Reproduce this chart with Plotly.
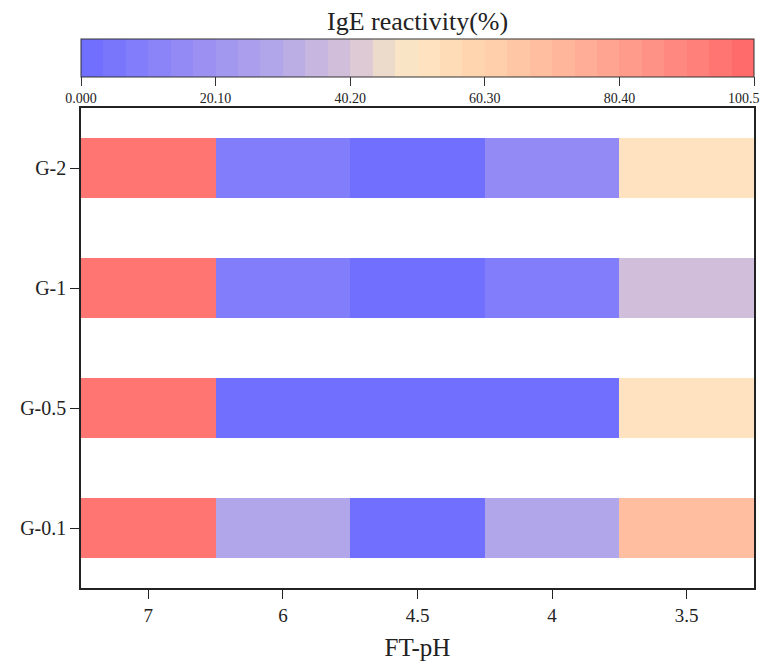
import plotly.graph_objects as go

ph_labels = ["7", "6", "4.5", "4", "3.5"]
groups = ["G-0.1", "G-0.5", "G-1", "G-2"]
reactivity = [
    [96, 27, 3, 27, 68],   # G-0.1
    [96, 3, 3, 3, 52],     # G-0.5
    [96, 7, 3, 7, 38],     # G-1
    [96, 7, 3, 15, 52],    # G-2
]
cbar_ticks = [0, 20.1, 40.2, 60.3, 80.4, 100.5]
cbar_text = ["0.000", "20.10", "40.20", "60.30", "80.40", "100.5"]

anchors = [
    (0.00, (108, 108, 255)),
    (0.15, (148, 138, 246)),
    (0.30, (182, 170, 232)),
    (0.40, (214, 194, 216)),
    (0.46, (240, 224, 200)),
    (0.50, (255, 230, 196)),
    (0.60, (255, 210, 172)),
    (0.70, (255, 186, 158)),
    (0.80, (255, 160, 142)),
    (0.90, (255, 132, 126)),
    (1.00, (255, 102, 102)),
]


def interp(t):
    for (t0, c0), (t1, c1) in zip(anchors[:-1], anchors[1:]):
        if t0 <= t <= t1:
            f = (t - t0) / (t1 - t0) if t1 > t0 else 0
            return tuple(round(a + (b - a) * f) for a, b in zip(c0, c1))
    return anchors[-1][1]


n_steps = 30
colorscale = []
for i in range(n_steps):
    c = interp((i + 0.5) / n_steps)
    col = "rgb(%d,%d,%d)" % c
    colorscale.append([i / n_steps, col])
    colorscale.append([(i + 1) / n_steps, col])

font_family = "Liberation Serif, Times New Roman, serif"

# last colorbar label is drawn as an annotation so it stays inside the page
shown_text = cbar_text[:-1] + [""]

fig = go.Figure(
    go.Heatmap(
        x=ph_labels,
        y=groups,
        z=reactivity,
        zmin=0,
        zmax=100.5,
        colorscale=colorscale,
        ygap=60,
        xgap=0,
        colorbar=dict(
            orientation="h",
            x=0,
            xanchor="left",
            y=(588 - 39) / 480,
            yanchor="top",
            len=1,
            lenmode="fraction",
            thickness=38,
            thicknessmode="pixels",
            xpad=0,
            ypad=0,
            outlinewidth=1,
            outlinecolor="#333",
            tickvals=cbar_ticks,
            ticktext=shown_text,
            ticks="outside",
            ticklen=9,
            tickcolor="#333",
            tickfont=dict(family=font_family, size=14, color="#222"),
        ),
        hoverongaps=False,
    )
)

fig.add_annotation(
    text=cbar_text[-1],
    xref="paper", yref="paper",
    x=1, y=(588 - 98) / 480,
    xanchor="right", yanchor="middle", xshift=7,
    showarrow=False, borderpad=0,
    font=dict(family=font_family, size=14, color="#222"),
)

fig.add_annotation(
    text="IgE reactivity(%)",
    xref="paper", yref="paper",
    x=0.5, y=(588 - 22) / 480,
    xanchor="center", yanchor="middle",
    showarrow=False,
    font=dict(family=font_family, size=26, color="#222"),
)

fig.update_layout(
    width=761,
    height=662,
    margin=dict(l=73, r=15, t=100, b=82),
    paper_bgcolor="white",
    plot_bgcolor="white",
    font=dict(family=font_family, color="#222"),
    xaxis=dict(
        title=dict(text="FT-pH", font=dict(family=font_family, size=25), standoff=14),
        tickfont=dict(family=font_family, size=19),
        showline=True, linecolor="#222", linewidth=1.5, mirror=True,
        ticks="outside", ticklen=9, tickcolor="#222",
        showgrid=False, zeroline=False,
    ),
    yaxis=dict(
        tickfont=dict(family=font_family, size=20),
        showline=True, linecolor="#222", linewidth=1.5, mirror=True,
        ticks="outside", ticklen=9, tickcolor="#222",
        showgrid=False, zeroline=False,
        range=[-0.5, 3.5],
    ),
)

fig.write_html("out.html")
